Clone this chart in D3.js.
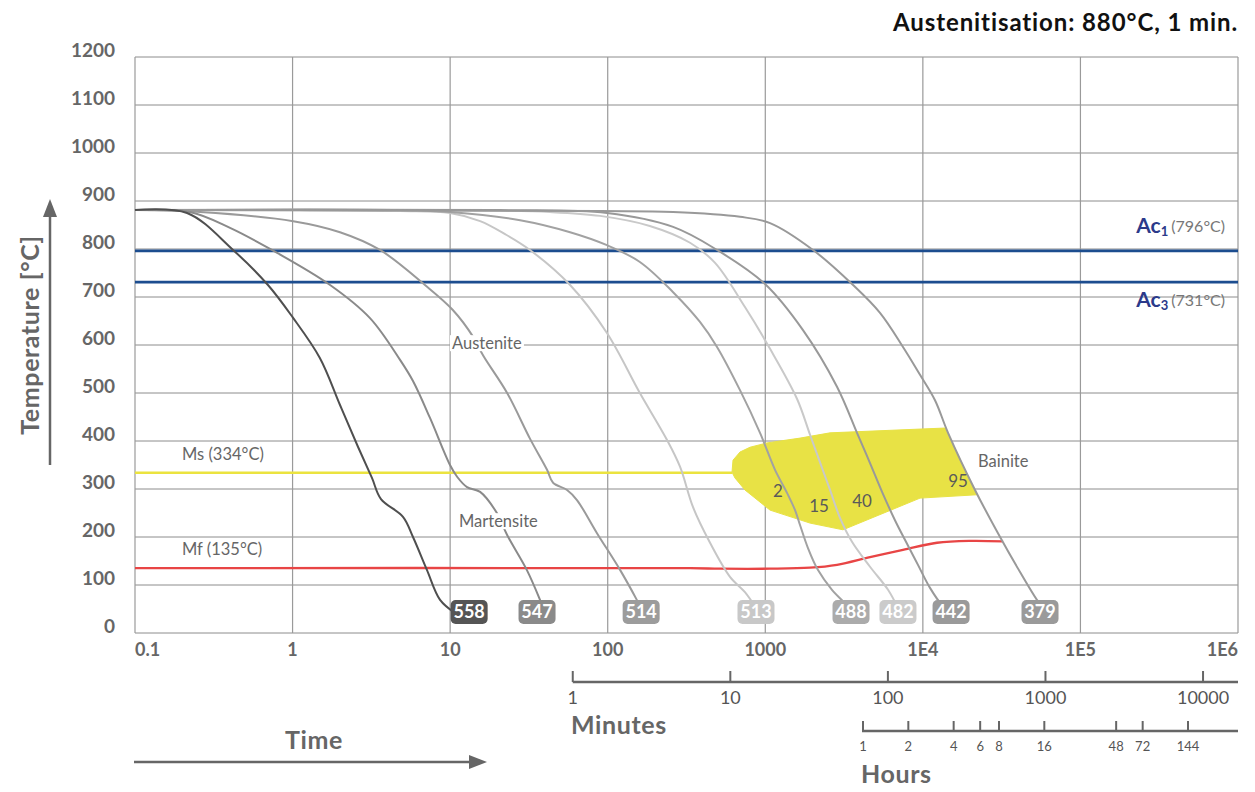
<!DOCTYPE html>
<html>
<head>
<meta charset="utf-8">
<script src="https://cdn.jsdelivr.net/npm/d3@7"></script>
<style>
  body { margin: 0; background: #fff; }
  svg { font-family: Lato, "Open Sans", sans-serif; }
</style>
</head>
<body>
<svg id="chart" width="1255" height="792"></svg>
<script>
// ---- data (time in seconds, temperature in °C) ----
const tempTicks = [0, 100, 200, 300, 400, 500, 600, 700, 800, 900, 1000, 1100, 1200];
const timeTicks = [0.1, 1, 10, 100, 1000, 1e4, 1e5, 1e6];
const timeTickLabels = ["0.1", "1", "10", "100", "1000", "1E4", "1E5", "1E6"];
const minuteTicks = [1, 10, 100, 1000, 10000];
const hourTicks = [1, 2, 4, 6, 8, 16, 48, 72, 144];

const Ac1 = 796, Ac3 = 731, Ms = 334, Mf = 135;

const hardness = ["558", "547", "514", "513", "488", "482", "442", "379"];
const labelTimes = [13.2, 35.6, 163, 873, 3500, 6950, 15100, 55400];

const curve558 = [[0.1,881],[0.214,875],[0.419,798],[0.698,725],[1.0,658],[1.49,573],[2.0,475],[2.60,388],[3.19,323],[3.64,279],[5.02,242],[5.81,200],[7.13,131],[8.63,69],[10.7,42]];
const curve547 = [[0.1,881],[0.223,877],[0.401,844],[0.739,798],[1.73,725],[3.10,656],[4.81,569],[5.81,525],[7.45,448],[9.98,350],[11.1,325],[12.8,304],[15.5,294],[19.8,250],[23.0,204],[30.7,131],[37.2,69],[39.4,48]];
const curve514 = [[0.1,881],[0.259,877],[1.01,858],[2.0,835],[3.59,798],[6.92,725],[10.4,673],[14.0,617],[16.2,578],[23.0,500],[32.1,405],[41.2,340],[45.0,313],[55.2,298],[63.8,277],[85.5,208],[120,131],[153,69],[165,48]];
const curve513 = [[0.1,881],[1.11,881],[4.81,879],[9.98,875],[15.5,858],[22.3,831],[32.1,798],[57.7,725],[98.9,625],[160,500],[238,402],[288,346],[348,262],[446,188],[597,117],[743,85],[873,52]];
const curve488 = [[0.1,881],[4.81,881],[9.98,877],[27.8,860],[57.7,835],[98.9,808],[160,773],[260,710],[385,648],[494,596],[691,506],[926,417],[1153,340],[1374,292],[1545,256],[1661,225],[1866,177],[2161,131],[2650,90],[3206,62],[3500,48]];
const curve482 = [[0.1,881],[9.98,881],[43.0,877],[89.4,869],[185,848],[333,813],[480,771],[743,679],[1072,592],[1589,488],[1923,413],[2291,344],[2576,298],[2979,240],[3551,190],[4620,138],[6012,90],[6950,52]];
const curve442 = [[0.1,881],[20.7,881],[98.9,875],[260,846],[494,798],[996,727],[1735,631],[2852,513],[3820,417],[4620,354],[5508,294],[6653,235],[7816,190],[9312,142],[11100,94],[13240,58],[14860,44]];
const curve379 = [[0.1,881],[89.4,879],[260,877],[691,867],[1072,854],[2009,798],[3606,725],[5346,667],[7479,596],[9594,538],[11940,485],[14450,417],[21430,298],[30900,200],[41380,127],[52970,69],[59570,48]];

const curveColors = ["#4f4f4f", "#8a8a8a", "#9a9a9a", "#c6c6c6", "#a2a2a2", "#c9c9c9", "#999999", "#999999"];
const boxColors   = ["#555555", "#8a8a8a", "#9c9c9c", "#c8c8c8", "#ababab", "#cbcbcb", "#9a9a9a", "#9a9a9a"];

const bainite = [[615,335],[624,360],[691,377],[800,387],[1026,396],[1661,406],[2576,417],[13830,427],[22080,288],[9594,281],[3112,215],[1923,229],[1072,256],[743,298],[642,323]];
const msLine = [[0.1,334],[615,334]];
const mfLine = [[0.1,135],[333,135],[516,134],[1072,134],[1923,136],[2852,142],[4620,158],[7479,173],[12300,188],[19910,192],[32280,191]];

const bainitePct = [["2", 778, 493], ["15", 819, 508], ["40", 862, 503], ["95", 958, 483]];

// ---- scales ----
const svg = d3.select("#chart");
const x = d3.scaleLog().domain([0.1, 1e6]).range([135, 1238]);
const y = d3.scaleLinear().domain([0, 1200]).range([633, 57]);
const xMin = d3.scaleLog().domain([0.1 / 60, 1e6 / 60]).range([135, 1238]);
const xHour = d3.scaleLog().domain([1, 144]).range([863, 1188]);

const gridColor = "#8c8c8c";
const textGray = "#666666";

// gridlines
const grid = svg.append("g");
grid.selectAll(".h").data(tempTicks).enter().append("line")
  .attr("x1", 135).attr("x2", 1238)
  .attr("y1", d => y(d)).attr("y2", d => y(d))
  .attr("stroke", gridColor).attr("stroke-width", 1);
grid.selectAll(".v").data(timeTicks).enter().append("line")
  .attr("x1", d => x(d)).attr("x2", d => x(d))
  .attr("y1", 57).attr("y2", 633)
  .attr("stroke", "#9a9a9a").attr("stroke-width", 1.2);

// y labels
svg.selectAll(".ylab").data(tempTicks).enter().append("text")
  .attr("x", 115).attr("y", d => y(d) - 5)
  .attr("text-anchor", "end").attr("dominant-baseline", "middle")
  .attr("font-size", 19).attr("font-weight", 700).attr("fill", textGray)
  .text(d => d);

// x labels
svg.selectAll(".xlab").data(timeTicks).enter().append("text")
  .attr("x", d => x(d))
  .attr("y", 651)
  .attr("text-anchor", (d, i) => i === 0 ? "start" : i === timeTicks.length - 1 ? "end" : "middle")
  .attr("dominant-baseline", "middle")
  .attr("font-size", 18).attr("font-weight", 700).attr("fill", textGray)
  .text((d, i) => timeTickLabels[i]);

// Ac lines
[Ac1, Ac3].forEach(v => {
  svg.append("line").attr("x1", 135).attr("x2", 1238)
    .attr("y1", y(v)).attr("y2", y(v))
    .attr("stroke", "#1c4d8f").attr("stroke-width", 2.6);
});

// bainite area
svg.append("path").datum(bainite)
  .attr("d", d3.line().x(d => x(d[0])).y(d => y(d[1])).curve(d3.curveLinearClosed))
  .attr("fill", "#e8e245").attr("stroke", "#e8e245").attr("stroke-width", 1);

// Ms and Mf
const straight = d3.line().x(d => x(d[0])).y(d => y(d[1]));
const smooth = d3.line().x(d => x(d[0])).y(d => y(d[1])).curve(d3.curveCatmullRom.alpha(0.5));
svg.append("path").datum(msLine).attr("d", straight)
  .attr("fill", "none").attr("stroke", "#ebe33f").attr("stroke-width", 2.5);
svg.append("path").datum(mfLine).attr("d", smooth)
  .attr("fill", "none").attr("stroke", "#e84545").attr("stroke-width", 2.3);

// cooling curves, light ones first so dark ones stay on top
const curves = [curve558, curve547, curve514, curve513, curve488, curve482, curve442, curve379];
const order = [3, 5, 4, 2, 6, 7, 1, 0];
order.forEach(i => {
  svg.append("path").datum(curves[i]).attr("d", smooth)
    .attr("fill", "none").attr("stroke", curveColors[i]).attr("stroke-width", 2);
});

// phase labels, some with white background
function phaseLabel(txt, px, py, bg) {
  const g = svg.append("g");
  const t = g.append("text").attr("x", px).attr("y", py)
    .attr("dominant-baseline", "middle")
    .attr("font-size", 16.5).attr("fill", textGray).text(txt);
  if (bg) {
    const b = t.node().getBBox();
    g.insert("rect", "text").attr("x", b.x - 2).attr("y", b.y + 2)
      .attr("width", b.width + 4).attr("height", b.height - 4).attr("fill", "#fff");
  }
}
phaseLabel("Austenite", 452, 345, true);
phaseLabel("Martensite", 459, 523, true);
phaseLabel("Bainite", 978, 463, false);
phaseLabel("Ms (334°C)", 182, 456, false);
phaseLabel("Mf (135°C)", 182, 551, false);

bainitePct.forEach(p => {
  svg.append("text").attr("x", p[1]).attr("y", p[2])
    .attr("text-anchor", "middle").attr("dominant-baseline", "middle")
    .attr("font-size", 17).attr("fill", "#5a5a5a").text(p[0]);
});

// hardness boxes
hardness.forEach((h, i) => {
  const cx = x(labelTimes[i]);
  svg.append("rect").attr("x", cx - 18.5).attr("y", 600).attr("width", 37).attr("height", 24)
    .attr("rx", 5).attr("fill", boxColors[i]);
  svg.append("text").attr("x", cx).attr("y", 613)
    .attr("text-anchor", "middle").attr("dominant-baseline", "middle")
    .attr("font-size", 18).attr("font-weight", 700).attr("fill", "#fff").text(h);
});

// Ac labels
function acLabel(sub, val, py) {
  const t = svg.append("text").attr("x", 1225).attr("y", py)
    .attr("text-anchor", "end").attr("dominant-baseline", "middle");
  t.append("tspan").attr("font-size", 21).attr("font-weight", 700).attr("fill", "#2b3a8a").text("Ac");
  t.append("tspan").attr("font-size", 13).attr("font-weight", 700).attr("fill", "#2b3a8a").attr("dy", 5).text(sub);
  t.append("tspan").attr("font-size", 16).attr("fill", "#777").attr("dy", -5).attr("dx", 3).text(val);
}
acLabel("1", "(796°C)", 228);
acLabel("3", "(731°C)", 302);

// title
svg.append("text").attr("x", 1238).attr("y", 25)
  .attr("text-anchor", "end").attr("dominant-baseline", "middle")
  .attr("font-size", 24).attr("font-weight", 700).attr("letter-spacing", 0.9).attr("fill", "#111")
  .text("Austenitisation: 880°C, 1 min.");

// y-axis title and arrow
svg.append("text").attr("transform", "translate(33,335) rotate(-90)")
  .attr("text-anchor", "middle").attr("dominant-baseline", "middle")
  .attr("font-size", 25).attr("font-weight", 700).attr("letter-spacing", 0.6).attr("fill", textGray)
  .text("Temperature [°C]");
svg.append("line").attr("x1", 50).attr("x2", 50).attr("y1", 465).attr("y2", 214)
  .attr("stroke", textGray).attr("stroke-width", 2.5);
svg.append("path").attr("d", "M50,199 L43,217 L57,217 Z").attr("fill", textGray);

// Time arrow
svg.append("line").attr("x1", 134).attr("x2", 472).attr("y1", 762).attr("y2", 762)
  .attr("stroke", textGray).attr("stroke-width", 2.5);
svg.append("path").attr("d", "M487,762 L469,755 L469,769 Z").attr("fill", textGray);
svg.append("text").attr("x", 314).attr("y", 743)
  .attr("text-anchor", "middle").attr("dominant-baseline", "middle")
  .attr("font-size", 25).attr("font-weight", 700).attr("letter-spacing", 0.6).attr("fill", textGray).text("Time");

// minutes axis
const minY = 682;
svg.append("line").attr("x1", xMin(1)).attr("x2", 1238).attr("y1", minY).attr("y2", minY)
  .attr("stroke", textGray).attr("stroke-width", 2.5);
svg.selectAll(".mt").data(minuteTicks).enter().append("line")
  .attr("x1", d => xMin(d)).attr("x2", d => xMin(d)).attr("y1", minY).attr("y2", minY - 11)
  .attr("stroke", textGray).attr("stroke-width", 2);
svg.selectAll(".ml").data(minuteTicks).enter().append("text")
  .attr("x", d => xMin(d)).attr("y", 699)
  .attr("text-anchor", "middle").attr("dominant-baseline", "middle")
  .attr("font-size", 18).attr("fill", "#555").text(d => d);
svg.append("text").attr("x", 571).attr("y", 728).attr("dominant-baseline", "middle")
  .attr("font-size", 25).attr("font-weight", 700).attr("letter-spacing", 0.6).attr("fill", textGray).text("Minutes");

// hours axis
const hrY = 731;
svg.append("line").attr("x1", xHour(1) - 1).attr("x2", 1238).attr("y1", hrY).attr("y2", hrY)
  .attr("stroke", textGray).attr("stroke-width", 2.5);
svg.selectAll(".ht").data(hourTicks).enter().append("line")
  .attr("x1", d => xHour(d)).attr("x2", d => xHour(d)).attr("y1", hrY).attr("y2", hrY - 10)
  .attr("stroke", textGray).attr("stroke-width", 2);
svg.selectAll(".hl").data(hourTicks).enter().append("text")
  .attr("x", d => xHour(d)).attr("y", 748)
  .attr("text-anchor", "middle").attr("dominant-baseline", "middle")
  .attr("font-size", 13).attr("fill", "#555").text(d => d);
svg.append("text").attr("x", 861).attr("y", 777).attr("dominant-baseline", "middle")
  .attr("font-size", 25).attr("font-weight", 700).attr("letter-spacing", 0.6).attr("fill", textGray).text("Hours");
</script>
</body>
</html>
